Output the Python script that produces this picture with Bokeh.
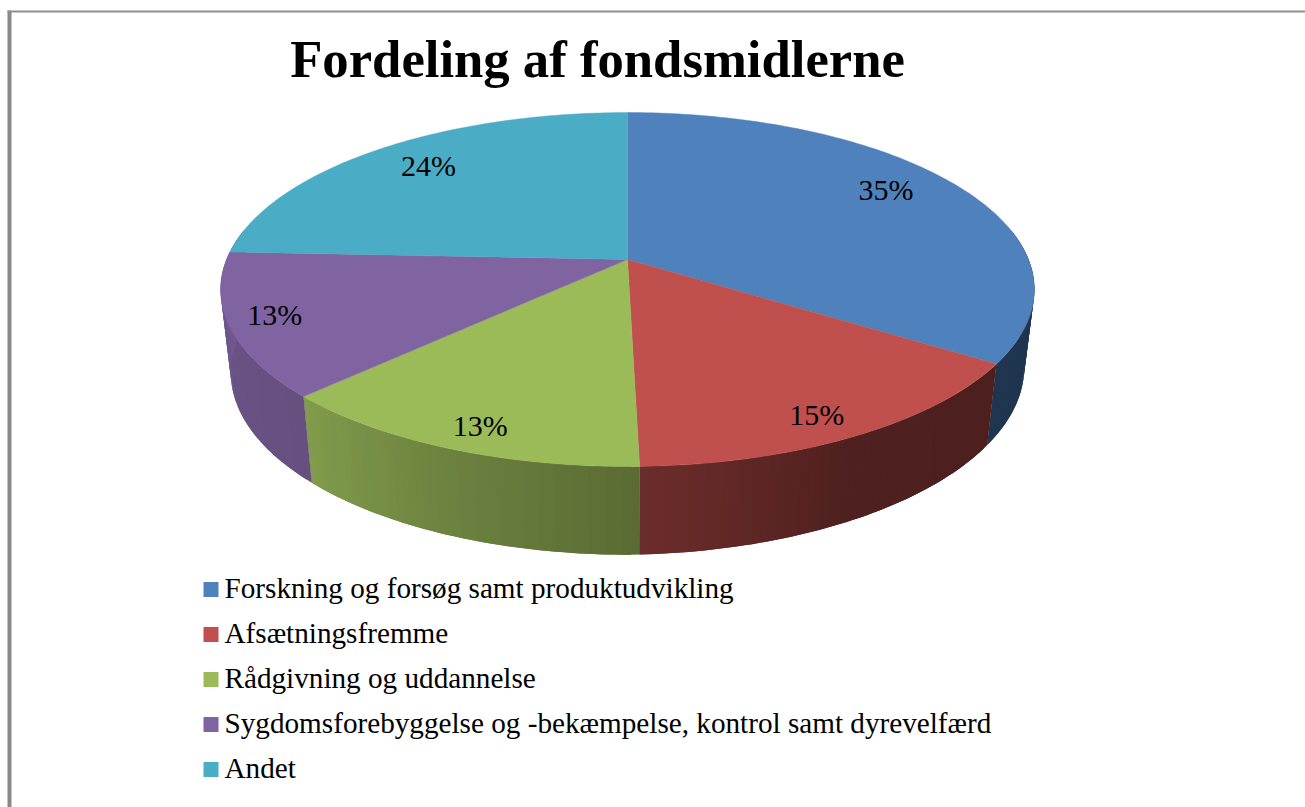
import numpy as np
from bokeh.plotting import figure
from bokeh.models import ColumnDataSource
from bokeh.core.properties import value
from bokeh.embed import file_html
from bokeh.resources import INLINE

title_text = "Fordeling af fondsmidlerne"
categories = ["Forskning og forsøg samt produktudvikling", "Afsætningsfremme", "Rådgivning og uddannelse",
              "Sygdomsforebyggelse og -bekæmpelse, kontrol samt dyrevelfærd", "Andet"]
shares = [34.3, 15.3, 13.0, 13.1, 24.3]
share_labels = ["35%", "15%", "13%", "13%", "24%"]
top_colors = ["#4f81bd", "#c0504d", "#9bbb59", "#8064a2", "#4bacc6"]
wall_from = ["#1f3550", "#4d1f1e", "#5a6b33", "#67507f", "#3a8195"]
wall_mid = ["#1f3550", "#4e201f", "#6c8240", "#6a5286", "#3a8195"]
wall_to = ["#1f3550", "#6c2d2b", "#819c4c", "#725a90", "#3a8195"]

CX, CY, RX, RY, K = 627.0, 259.0, 401.0, 171.9, 0.1695
BASE_CY, BASE_SX, BASE_SY, BASE_TILT = 341.0, 0.975, 1.03, 5.0
FONT = "Liberation Serif"


def project(theta, r=1.0, base=False):
    u, v = r * np.sin(theta), r * np.cos(theta)
    w = 1 + K * v
    if base:
        return CX + BASE_SX * RX * u / w, BASE_CY - BASE_SY * RY * v / w - BASE_TILT * np.clip(u, 0, None)
    return CX + RX * u / w, CY - RY * v / w


def mix(c0, c1, t):
    a = [int(c0[i:i + 2], 16) for i in (1, 3, 5)]
    b = [int(c1[i:i + 2], 16) for i in (1, 3, 5)]
    return "#%02x%02x%02x" % tuple(int(round(x + (y - x) * t)) for x, y in zip(a, b))


edges = np.radians(np.concatenate([[0], np.cumsum(shares)]) * 3.6)
W = 1305
H = 807
p = figure(width=W, height=H, x_range=(0, W), y_range=(H, 0), output_backend="svg",
           toolbar_location=None, min_border=0, outline_line_color=None)
p.axis.visible = False
p.grid.visible = False
p.background_fill_color = "white"

p.quad(left=[7], right=[11], top=[10], bottom=[H], fill_color="#888888", line_color=None)
p.quad(left=[7], right=[W], top=[10], bottom=[12], fill_color="#909090", line_color=None)

wx, wy, wc = [], [], []
for i in range(len(shares)):
    a0, a1 = edges[i], edges[i + 1]
    lo, hi = max(a0, np.radians(80)), min(a1, np.radians(280))
    if hi <= lo:
        continue
    n = max(2, int(np.degrees(hi - lo) / 1.0))
    th = np.linspace(lo, hi, n + 1)
    for j in range(n):
        t = (j + 0.5) / n
        c = mix(wall_from[i], wall_mid[i], t * 2) if t < 0.5 else mix(wall_mid[i], wall_to[i], t * 2 - 1)
        tt = th[j:min(j + 3, n + 1)]
        tx, ty = project(tt)
        bx, by = project(tt[::-1], base=True)
        wx.append(list(tx) + list(bx))
        wy.append(list(ty) + list(by))
        wc.append(c)
p.patches(wx, wy, fill_color=wc, line_color=None)

fx, fy = [], []
for i in range(len(shares)):
    th = np.linspace(edges[i], edges[i + 1], 120)
    x, y = project(th)
    fx.append([CX] + list(x))
    fy.append([CY] + list(y))
p.patches(fx, fy, fill_color=top_colors, line_color=top_colors, line_width=0.4)

mids = (edges[:-1] + edges[1:]) / 2
lx, ly = project(mids, r=0.8)
label_src = ColumnDataSource(dict(x=lx, y=ly, t=share_labels,
                                  dx=[-7, 13, -10, -38, 3], dy=[-9, 19, 20, 3, -4]))
p.text("x", "y", text="t", source=label_src, x_offset="dx", y_offset="dy", text_align="center",
       text_baseline="middle", text_font=value(FONT), text_font_size="30px", text_color="black")

p.text(x=[597], y=[58], text=[title_text], text_align="center", text_baseline="middle",
       text_font=value(FONT), text_font_size="52.7px", text_font_style="bold", text_color="black")

rows = 589 + 45 * np.arange(len(categories))
p.rect(x=[210.5] * len(categories), y=rows, width=15, height=15, fill_color=top_colors, line_color=None)
p.text(x=[224] * len(categories), y=rows - 2, text=categories, text_align="left", text_baseline="middle",
       text_font=value(FONT), text_font_size="29.2px", text_color="black")

open("out.html", "w").write(file_html(p, INLINE))
